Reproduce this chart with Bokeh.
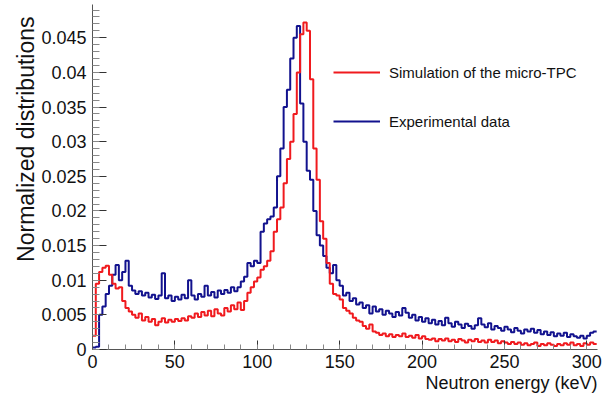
import numpy as np
from bokeh.plotting import figure
from bokeh.models import (Legend, LegendItem, Title, SingleIntervalTicker,
                          PrintfTickFormatter, Range1d)
from bokeh.embed import file_html
from bokeh.resources import INLINE

# ---------------- data (2 keV bins from 0 keV) ----------------
BIN_WIDTH_KEV = 2.0

SIMULATION = [
    0.0020, 0.0095, 0.0112, 0.0118, 0.0121, 0.0108, 0.0095, 0.0088, 0.0090, 0.0070,
    0.0060, 0.0055, 0.0050, 0.0046, 0.0052, 0.0042, 0.0047, 0.0040, 0.0044, 0.0035,
    0.0040, 0.0045, 0.0039, 0.0043, 0.0040, 0.0044, 0.0041, 0.0045, 0.0042, 0.0048,
    0.0046, 0.0052, 0.0047, 0.0054, 0.0049, 0.0056, 0.0048, 0.0058, 0.0052, 0.0049,
    0.0060, 0.0055, 0.0064, 0.0058, 0.0068, 0.0057, 0.0070, 0.0082, 0.0090, 0.0098,
    0.0104, 0.0115, 0.0120, 0.0128, 0.0142, 0.0170, 0.0188, 0.0205, 0.0240, 0.0275,
    0.0300, 0.0340, 0.0400, 0.0455, 0.0472, 0.0460, 0.0390, 0.0290, 0.0245, 0.0185,
    0.0160, 0.0125, 0.0095, 0.0080, 0.0078, 0.0072, 0.0060, 0.0056, 0.0052, 0.0046,
    0.0042, 0.0040, 0.0034, 0.0030, 0.0036, 0.0026, 0.0024, 0.0021, 0.0023, 0.0019,
    0.0022, 0.0018, 0.0021, 0.0019, 0.0023, 0.0018, 0.0020, 0.0017, 0.0021, 0.0016,
    0.0019, 0.0015, 0.0014, 0.0016, 0.0012, 0.0015, 0.0013, 0.0016, 0.0012, 0.0014,
    0.0011, 0.0015, 0.0013, 0.0010, 0.0014, 0.0012, 0.0015, 0.0011, 0.0013, 0.0010,
    0.0014, 0.0011, 0.0013, 0.0009, 0.0012, 0.0010, 0.0008, 0.0011, 0.0008, 0.0010,
    0.0007, 0.0009, 0.0006, 0.0008, 0.0010, 0.0005, 0.0008, 0.0006, 0.0009, 0.0007,
    0.0005, 0.0008, 0.0006, 0.0009, 0.0007, 0.0010, 0.0006, 0.0008, 0.0005, 0.0009,
    0.0007, 0.0010, 0.0008,
]

EXPERIMENT = [
    0.0003, 0.0004, 0.0050, 0.0062, 0.0080, 0.0092, 0.0108, 0.0122, 0.0100, 0.0112,
    0.0128, 0.0092, 0.0085, 0.0080, 0.0084, 0.0078, 0.0082, 0.0075, 0.0079, 0.0073,
    0.0078, 0.0110, 0.0074, 0.0078, 0.0070, 0.0076, 0.0072, 0.0079, 0.0074, 0.0100,
    0.0078, 0.0072, 0.0080, 0.0076, 0.0092, 0.0078, 0.0083, 0.0075, 0.0085, 0.0080,
    0.0086, 0.0082, 0.0090, 0.0084, 0.0090, 0.0098, 0.0105, 0.0125, 0.0120, 0.0128,
    0.0125, 0.0170, 0.0182, 0.0188, 0.0192, 0.0205, 0.0250, 0.0290, 0.0350, 0.0375,
    0.0420, 0.0450, 0.0467, 0.0355, 0.0300, 0.0258, 0.0245, 0.0200, 0.0165, 0.0150,
    0.0135, 0.0118, 0.0110, 0.0122, 0.0100, 0.0092, 0.0078, 0.0082, 0.0070, 0.0074,
    0.0065, 0.0068, 0.0060, 0.0064, 0.0052, 0.0062, 0.0055, 0.0058, 0.0050, 0.0056,
    0.0052, 0.0047, 0.0054, 0.0049, 0.0060, 0.0053, 0.0046, 0.0050, 0.0042, 0.0047,
    0.0040, 0.0045, 0.0038, 0.0043, 0.0036, 0.0041, 0.0035, 0.0046, 0.0038, 0.0033,
    0.0040, 0.0036, 0.0031, 0.0037, 0.0034, 0.0030, 0.0035, 0.0045, 0.0036, 0.0032,
    0.0038, 0.0029, 0.0034, 0.0031, 0.0027, 0.0033, 0.0029, 0.0025, 0.0031, 0.0027,
    0.0023, 0.0029, 0.0026, 0.0030, 0.0024, 0.0028, 0.0022, 0.0026, 0.0021, 0.0025,
    0.0019, 0.0023, 0.0020, 0.0024, 0.0018, 0.0022, 0.0019, 0.0017, 0.0020, 0.0016,
    0.0020, 0.0024, 0.0026,
]

SERIES_NAMES = ["Simulation of the micro-TPC", "Experimental data"]
X_TITLE = "Neutron energy (keV)"
Y_TITLE = "Normalized distributions"

# ---------------- styling ----------------
FONT = "Liberation Sans"
RED = "#f01a1e"
BLUE = "#12128e"
TXT = "#111111"

X_MAX = 306.5
Y_MAX = 0.0498

p = figure(width=614, height=400, output_backend="svg", toolbar_location=None,
           x_range=Range1d(0, X_MAX), y_range=Range1d(0, Y_MAX),
           min_border_left=92, min_border_right=17, min_border_top=4,
           min_border_bottom=51)
p.title.visible = False
p.outline_line_color = None
p.xgrid.grid_line_color = None
p.ygrid.grid_line_color = None
p.background_fill_color = "white"
p.border_fill_color = "white"


def step_xy(vals):
    edges = np.arange(len(vals) + 1) * BIN_WIDTH_KEV
    ys = list(vals) + [vals[-1]]
    return edges, ys


xs, ys = step_xy(EXPERIMENT)
r_exp = p.step(xs, ys, mode="after", line_color=BLUE, line_width=2)
xs, ys = step_xy(SIMULATION)
r_sim = p.step(xs, ys, mode="after", line_color=RED, line_width=2)

# axes
xa = p.xaxis[0]
xa.ticker = SingleIntervalTicker(interval=50, num_minor_ticks=5)
xa.major_tick_in = 9
xa.major_tick_out = 0
xa.minor_tick_in = 5
xa.minor_tick_out = 0
xa.major_label_standoff = 5

ya = p.yaxis[0]
ya.ticker = SingleIntervalTicker(interval=0.005, num_minor_ticks=5)
ya.formatter = PrintfTickFormatter(format="%g")
ya.major_tick_in = 14
ya.major_tick_out = 0
ya.minor_tick_in = 7
ya.minor_tick_out = 0
ya.major_label_standoff = 6

for ax in (xa, ya):
    ax.axis_line_color = "#555555"
    ax.major_tick_line_color = "#333333"
    ax.minor_tick_line_color = "#888888"
    ax.major_label_text_font = FONT
    ax.major_label_text_font_size = "18px"
    ax.major_label_text_color = TXT

# axis titles (right/top aligned as in the reference)
xt = Title(text=X_TITLE, align="right", offset=0, standoff=0,
           text_font=FONT, text_font_size="18px", text_font_style="normal",
           text_color=TXT)
p.add_layout(xt, "below")
yt = Title(text=Y_TITLE, align="right", offset=12, standoff=0,
           text_font=FONT, text_font_size="23px", text_font_style="normal",
           text_color=TXT)
p.add_layout(yt, "left")

legend = Legend(items=[LegendItem(label=SERIES_NAMES[0], renderers=[r_sim]),
                       LegendItem(label=SERIES_NAMES[1], renderers=[r_exp])],
                location=(241, 218), padding=0, margin=0, spacing=29,
                glyph_width=47, glyph_height=20, label_height=20, label_standoff=9,
                label_text_font=FONT, label_text_font_size="15px", label_text_color=TXT,
                border_line_color=None, background_fill_alpha=0)
p.add_layout(legend)

open("out.html", "w").write(file_html(p, INLINE))
